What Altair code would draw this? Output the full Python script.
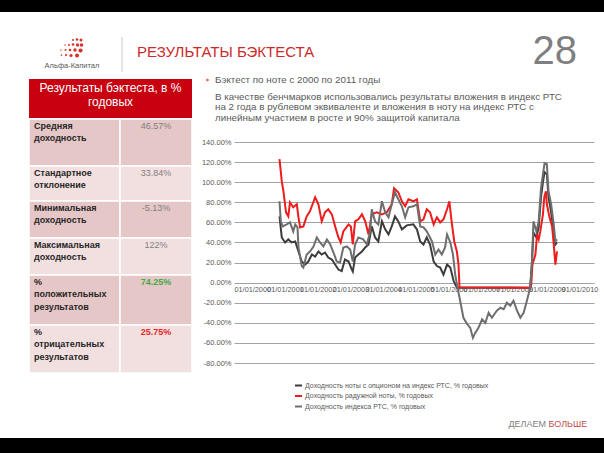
import altair as alt
import pandas as pd

# ---------------- data ----------------
series_names = [
    "Доходность ноты с опционом на индекс РТС, % годовых",
    "Доходность радужной ноты, % годовых",
    "Доходность индекса РТС, % годовых",
]

note_x = [2001.39, 2001.46, 2001.56, 2001.66, 2001.76, 2001.87, 2001.97, 2002.07, 2002.17, 2002.27,
          2002.38, 2002.48, 2002.58, 2002.68, 2002.78, 2002.88, 2002.99, 2003.09, 2003.19, 2003.29,
          2003.39, 2003.50, 2003.60, 2003.63, 2003.70, 2003.80, 2003.91, 2004.01, 2004.11, 2004.21,
          2004.31, 2004.41, 2004.52, 2004.62, 2004.72, 2004.82, 2004.92, 2005.02, 2005.13, 2005.28,
          2005.48, 2005.59, 2005.69, 2005.79, 2005.89, 2005.99, 2006.10, 2006.20, 2006.30, 2006.40,
          2006.51, 2006.61, 2006.71, 2006.81, 2009.05, 2009.10, 2009.15, 2009.24, 2009.31, 2009.38,
          2009.44, 2009.49, 2009.56, 2009.61, 2009.69, 2009.77, 2009.82, 2009.87]
note_y = [66, 45, 40, 43, 40, 41, 31, 21, 18, 21,
          28, 26, 31, 28, 30, 25, 23, 18, 13, 11.5,
          23, 21, 13, 11, 25, 28, 31, 35, 38, 56,
          45, 41, 61, 53, 48, 56, 66, 61, 53, 57,
          58, 53, 41, 38, 45, 38, 21, 16.5, 15, 8,
          18, 15, 1.6, -5.1, -5.1, 18, 50, 45, 55, 85,
          100, 110, 108, 85, 70, 50, 38, 40]

rainbow_x = [2001.39, 2001.46, 2001.51, 2001.59, 2001.66, 2001.71, 2001.81, 2001.92, 2001.97, 2002.02,
             2002.12, 2002.22, 2002.32, 2002.48, 2002.58, 2002.68, 2002.78, 2002.88, 2002.99, 2003.09,
             2003.19, 2003.26, 2003.34, 2003.50, 2003.57, 2003.63, 2003.70, 2003.80, 2003.91, 2004.01,
             2004.11, 2004.21, 2004.36, 2004.52, 2004.67, 2004.82, 2004.89, 2005.02, 2005.13, 2005.23,
             2005.33, 2005.48, 2005.59, 2005.69, 2005.79, 2005.89, 2005.99, 2006.10, 2006.20, 2006.30,
             2006.40, 2006.51, 2006.58, 2006.66, 2006.73, 2006.81, 2006.86, 2006.89, 2009.05, 2009.08,
             2009.12, 2009.21, 2009.26, 2009.31, 2009.36, 2009.44, 2009.48, 2009.53, 2009.56, 2009.64,
             2009.72, 2009.77, 2009.82, 2009.87]
rainbow_y = [123, 101, 91, 70, 66, 80, 75, 78, 65, 55,
             56, 66, 71, 85, 78, 61, 70, 73, 68, 56,
             45, 40, 51, 58, 56, 38, 61, 63, 68, 61,
             48, 68, 70, 68, 70, 78, 94, 90, 81, 76,
             83, 81, 83, 61, 63, 73, 70, 58, 65, 60,
             63, 73, 81, 58, 41, 31, 18, -4.5, -5.1, -3,
             18, 28, 48, 43, 51, 68, 85, 91, 78, 65,
             56, 38, 18, 31]

rts_x = [2001.39, 2001.43, 2001.49, 2001.61, 2001.71, 2001.81, 2001.87, 2001.94, 2001.97, 2002.07,
         2002.12, 2002.22, 2002.32, 2002.43, 2002.53, 2002.63, 2002.73, 2002.84, 2002.94, 2003.04,
         2003.14, 2003.24, 2003.34, 2003.45, 2003.55, 2003.63, 2003.70, 2003.80, 2003.95, 2004.06,
         2004.16, 2004.21, 2004.31, 2004.41, 2004.52, 2004.62, 2004.72, 2004.82, 2004.92, 2005.02,
         2005.13, 2005.23, 2005.33, 2005.48, 2005.59, 2005.69, 2005.79, 2005.89, 2006.05, 2006.15,
         2006.25, 2006.35, 2006.45, 2006.51, 2006.61, 2006.69, 2006.76, 2006.83, 2006.91, 2007.01,
         2007.12, 2007.22, 2007.30, 2007.37, 2007.47, 2007.58, 2007.68, 2007.78, 2007.88, 2008.03,
         2008.14, 2008.24, 2008.34, 2008.44, 2008.54, 2008.65, 2008.75, 2008.85, 2008.95, 2009.05,
         2009.10, 2009.15, 2009.24, 2009.31, 2009.38, 2009.44, 2009.49, 2009.56, 2009.61, 2009.69,
         2009.77, 2009.82, 2009.87]
rts_y = [81, 61, 56, 58, 60, 51, 58, 55, 35, 16.5,
         15, 28, 31, 36, 45, 40, 36, 43, 38, 30,
         21, 20, 35, 36, 33, 21, 38, 45, 43, 38,
         51, 73, 61, 58, 81, 70, 65, 78, 90, 83,
         76, 65, 75, 76, 78, 56, 55, 51, 41, 28,
         33, 28, 35, 48, 40, 28, 8, -5, -18, -35,
         -41, -45, -55, -50, -45, -36.5, -40, -30, -35, -28,
         -25, -26.5, -20, -23, -18, -28, -35, -30, -18, -5,
         18, 61, 51, 61, 94, 108, 119, 118, 91, 78,
         58, 41, 43]

y_ticks = [-80, -60, -40, -20, 0, 20, 40, 60, 80, 100, 120, 140]
x_tick_years = [2000, 2001, 2002, 2003, 2004, 2005, 2006, 2007, 2008, 2009, 2010]

table_header = "Результаты бэктеста, в %\nгодовых"
table_labels = ["Средняя\nдоходность", "Стандартное\nотклонение", "Минимальная\nдоходность",
                "Максимальная\nдоходность", "%\nположительных\nрезультатов", "%\nотрицательных\nрезультатов"]
table_values = ["46.57%", "33.84%", "-5.13%", "122%", "74.25%", "25.75%"]

intro_line = "Бэктест по ноте с 2000 по 2011 годы"
body_lines = [
    "В качестве бенчмарков использовались результаты вложения в индекс РТС",
    "на 2 года в рублевом эквиваленте и вложения в ноту на индекс РТС с",
    "линейным участием в росте и 90% защитой капитала",
]
slide_title = "РЕЗУЛЬТАТЫ БЭКТЕСТА"
slide_number = "28"
company = "Альфа-Капитал"
slogan_a = "ДЕЛАЕМ"
slogan_b = "БОЛЬШЕ"

# ---------------- layout / style ----------------
FONT = "Liberation Sans"
OX, OY = 234, 142          # plot origin on the canvas
W, H = 360, 221            # plot size
series_colors = ["#3c3c3c", "#ee1c1c", "#6e6e6e"]
RED = "#c8000f"
row_edges = [119, 166, 201, 238, 275, 325, 373]
row_fills = ["#e6c7c8", "#f2e0e0", "#e6c7c8", "#f2e0e0", "#e6c7c8", "#f2e0e0"]
value_colors = ["#808080", "#808080", "#808080", "#808080", "#45a845", "#e32626"]
value_weights = ["normal", "normal", "normal", "normal", "bold", "bold"]
body_y = [96.5, 107, 117.5]
logo_dots = [(73, 40, 4), (77, 39.5, 7), (81, 40, 9),
             (65, 45, 2), (69, 45, 4), (73, 44.5, 7), (77.5, 45, 11), (81.5, 45, 13),
             (61, 50, 2), (65.5, 50, 4), (70, 50, 7), (75, 50, 12), (80.5, 50.5, 18),
             (61.5, 55, 3), (66, 55, 5), (71, 55.5, 10), (77, 55.5, 16)]


def rx(x):
    return x - OX


def ry(y):
    return y - OY


one = alt.Data(values=[{"k": 0}])


def box(x1, y1, x2, y2, color, **kw):
    return alt.Chart(one).mark_rect(color=color, **kw).encode(
        x=alt.value(rx(x1)), x2=alt.value(rx(x2)), y=alt.value(ry(y1)), y2=alt.value(ry(y2)))


def label(text, x, y, size, color, align="left", weight="normal", baseline="middle", **kw):
    return alt.Chart(one).mark_text(
        text=text, align=align, baseline=baseline, fontSize=size, color=color,
        fontWeight=weight, font=FONT, **kw).encode(x=alt.value(rx(x)), y=alt.value(ry(y)))


# ---------------- lines ----------------
rows = []
for name, xs, ys in zip(series_names, [note_x, rainbow_x, rts_x], [note_y, rainbow_y, rts_y]):
    rows += [{"series": name, "year": a, "value": b} for a, b in zip(xs, ys)]
df = pd.DataFrame(rows)

x_enc = alt.X("year:Q", scale=alt.Scale(domain=[2000, 2011], nice=False, zero=False),
              axis=alt.Axis(values=x_tick_years, labelExpr="'01/01/' + datum.value", title=None,
                            offset=-80, domain=False, ticks=False, grid=False, labelAlign="left",
                            labelBaseline="top", labelPadding=2, labelFontSize=7.3, labelColor="#595959",
                            labelFont=FONT, labelOverlap=False, labelFlush=False, labelBound=False))
y_enc = alt.Y("value:Q", scale=alt.Scale(domain=[-80, 140], nice=False, zero=False),
              axis=alt.Axis(values=y_ticks, title=None,
                            labelExpr="replace(format(datum.value, '.2f'), '\u2212', '-') + '%'",
                            domain=False, ticks=False, grid=True, gridColor="#a3a3a3", gridWidth=1.2,
                            labelFontSize=7.5, labelColor="#595959", labelFont=FONT, labelPadding=3))
color_enc = alt.Color("series:N", scale=alt.Scale(domain=series_names, range=series_colors),
                      legend=alt.Legend(orient="none", legendX=60, legendY=239, direction="vertical",
                                        title=None, symbolType="stroke", symbolSize=49,
                                        symbolStrokeWidth=2, labelFontSize=7, labelColor="#595959",
                                        labelFont=FONT, labelLimit=400, rowPadding=1.5, padding=0,
                                        labelOffset=2))


def series_layer(name):
    return alt.Chart(df).transform_filter(alt.datum.series == name).mark_line(
        strokeWidth=2).encode(x=x_enc, y=y_enc, color=color_enc)


# ---------------- table ----------------
cells = []
for i in range(6):
    for (a, b) in [(29, 120), (120, 192)]:
        cells.append({"x": rx(a), "x2": rx(b), "y": ry(row_edges[i]), "y2": ry(row_edges[i + 1]),
                      "fill": row_fills[i]})
cells_df = pd.DataFrame(cells)
table_bg = alt.Chart(cells_df).mark_rect(stroke="white", strokeWidth=1.5).encode(
    x=alt.X("x:Q", scale=None), x2="x2:Q", y=alt.Y("y:Q", scale=None), y2="y2:Q",
    fill=alt.Fill("fill:N", scale=None))

lab_df = pd.DataFrame({"t": table_labels, "x": [rx(34)] * 6,
                       "y": [ry(v + 3) for v in row_edges[:6]]})
table_lab = alt.Chart(lab_df).mark_text(
    align="left", baseline="top", fontSize=9, fontWeight="bold", color="#262626", font=FONT,
    lineBreak="\n", lineHeight=12.3).encode(
    x=alt.X("x:Q", scale=None), y=alt.Y("y:Q", scale=None), text="t:N")

val_df = pd.DataFrame({"t": table_values, "x": [rx(156)] * 6,
                       "y": [ry(v + 2.5) for v in row_edges[:6]],
                       "c": value_colors, "w": value_weights})
table_val_n = alt.Chart(val_df).transform_filter("datum.w == 'normal'").mark_text(
    align="center", baseline="top", fontSize=9, font=FONT).encode(
    x=alt.X("x:Q", scale=None), y=alt.Y("y:Q", scale=None), text="t:N",
    color=alt.Color("c:N", scale=None))
table_val_b = alt.Chart(val_df).transform_filter("datum.w == 'bold'").mark_text(
    align="center", baseline="top", fontSize=9, font=FONT, fontWeight="bold").encode(
    x=alt.X("x:Q", scale=None), y=alt.Y("y:Q", scale=None), text="t:N",
    color=alt.Color("c:N", scale=None))

header = box(29, 79, 192, 118, RED)
header_txt = alt.Chart(one).mark_text(
    text=table_header, lineBreak="\n", lineHeight=13.5, align="center", baseline="top",
    fontSize=12, color="white", font=FONT).encode(x=alt.value(rx(110.5)), y=alt.value(ry(83)))

# ---------------- logo / header ----------------
dots_df = pd.DataFrame({"x": [rx(d[0]) for d in logo_dots], "y": [ry(d[1]) for d in logo_dots],
                        "s": [d[2] for d in logo_dots]})
logo = alt.Chart(dots_df).mark_circle(color="#d4332b", opacity=1).encode(
    x=alt.X("x:Q", scale=None), y=alt.Y("y:Q", scale=None), size=alt.Size("s:Q", scale=None))

sep = alt.Chart(one).mark_rule(color="#c8c8c8", strokeWidth=1).encode(
    x=alt.value(rx(122)), y=alt.value(ry(37)), y2=alt.value(ry(72)))

bullet = alt.Chart(one).mark_point(shape="triangle-right", filled=True, size=14, color="#d42020").encode(
    x=alt.value(rx(208)), y=alt.value(ry(80)))

layers = [
    box(0, 0, 604, 12, "black"),
    box(0, 438, 604, 453, "black"),
    series_layer(series_names[0]),
    series_layer(series_names[1]),
    series_layer(series_names[2]),
    table_bg, header, header_txt, table_lab, table_val_n, table_val_b,
    logo,
    label(company, 72, 66, 7.5, "#595959", align="center"),
    sep,
    label(slide_title, 137, 52, 15, "#cc2a2a"),
    label(slide_number, 577, 52, 40, "#7f7f7f", align="right"),
    bullet,
    label(intro_line, 215, 80, 9.8, "#595959"),
]
for t, yy in zip(body_lines, body_y):
    layers.append(label(t, 215, yy, 9.8, "#595959"))
layers += [
    label(slogan_a, 546, 424, 9, "#7f7f7f", align="right"),
    label(slogan_b, 548.5, 424, 9, "#c0504d"),
]

chart = alt.layer(*layers).properties(
    width=W, height=H,
    padding={"left": OX, "top": OY, "right": 604 - OX - W, "bottom": 453 - OY - H},
    autosize=alt.AutoSizeParams(type="none"),
    background="white",
).configure_view(stroke=None)

chart.save("out.html", embed_options={"renderer": "svg", "actions": False})
